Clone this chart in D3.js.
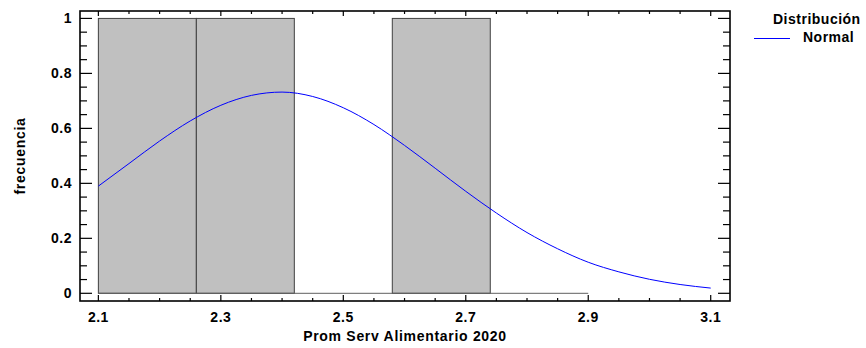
<!DOCTYPE html>
<html>
<head>
<meta charset="utf-8">
<script src="https://cdn.jsdelivr.net/npm/d3@7"></script>
<style>
  html, body { margin: 0; padding: 0; background: #fff; }
  svg text { font-family: "Liberation Sans", Arial, sans-serif; font-weight: bold; fill: #000; }
</style>
</head>
<body>
<svg id="chart" width="866" height="348"></svg>
<script>
// Histogram bins (edges) and counts per bin
const binEdges = [2.10, 2.26, 2.42, 2.58, 2.74, 2.90];
const binCounts = [1, 1, 0, 1, 0];

// Fitted normal curve, sampled along the axis
const curveX = [2.10, 2.15, 2.20, 2.25, 2.30, 2.35, 2.40, 2.45, 2.50, 2.55, 2.60,
                2.65, 2.70, 2.75, 2.80, 2.85, 2.90, 2.95, 3.00, 3.05, 3.10];
const curveY = [0.390, 0.472, 0.554, 0.627, 0.684, 0.720, 0.732, 0.716, 0.675, 0.614, 0.538,
                0.455, 0.371, 0.292, 0.221, 0.162, 0.113, 0.078, 0.051, 0.032, 0.019];

// Axis ticks
const xTicks = [2.1, 2.3, 2.5, 2.7, 2.9, 3.1];
const yTicks = [0, 0.2, 0.4, 0.6, 0.8, 1];

const xLabel = "Prom Serv Alimentario 2020";
const yLabel = "frecuencia";
const legendTitle = "Distribución";
const legendItems = ["Normal"];

const svg = d3.select("#chart");
const L = 80, R = 730, T = 11, B = 301;

const x = d3.scaleLinear().domain([2.07, 3.1315]).range([L, R]);
const y = d3.scaleLinear().domain([-0.028, 1.027]).range([B, T]);

const xMinor = d3.range(2.1, 3.1001, 0.05);
const yMinor = d3.range(0, 1.0001, 0.05);
const isMajor = (v, list) => list.some(t => Math.abs(t - v) < 1e-6);

// Bars
const bins = binCounts.map((c, i) => ({ x0: binEdges[i], x1: binEdges[i + 1], c }));
svg.append("g").selectAll("rect")
  .data(bins.filter(d => d.c > 0))
  .join("rect")
  .attr("x", d => x(d.x0))
  .attr("y", d => y(d.c))
  .attr("width", d => x(d.x1) - x(d.x0))
  .attr("height", d => y(0) - y(d.c))
  .attr("fill", "#c0c0c0")
  .attr("stroke", "#404040")
  .attr("stroke-width", 1);

// Baseline under all bins
svg.append("line")
  .attr("x1", x(binEdges[0])).attr("x2", x(binEdges[binEdges.length - 1]))
  .attr("y1", y(0)).attr("y2", y(0))
  .attr("stroke", "#606060").attr("stroke-width", 1);

// Normal curve
const line = d3.line()
  .x((d, i) => x(curveX[i]))
  .y(d => y(d))
  .curve(d3.curveMonotoneX);
svg.append("path")
  .datum(curveY)
  .attr("d", line)
  .attr("fill", "none")
  .attr("stroke", "#0000ff")
  .attr("stroke-width", 1);

// Frame
const frame = svg.append("g").attr("stroke", "#000").attr("stroke-width", 1.6);
frame.append("rect")
  .attr("x", L).attr("y", T).attr("width", R - L).attr("height", B - T)
  .attr("fill", "none");

// Inward ticks on all four sides
const tk = svg.append("g").attr("stroke", "#000").attr("stroke-width", 1.2);
xMinor.forEach(v => {
  const len = isMajor(v, xTicks) ? 6 : 3;
  tk.append("line").attr("x1", x(v)).attr("x2", x(v)).attr("y1", B).attr("y2", B - len);
  tk.append("line").attr("x1", x(v)).attr("x2", x(v)).attr("y1", T).attr("y2", T + (isMajor(v, xTicks) ? 5 : 3));
});
yMinor.forEach(v => {
  const len = isMajor(v, yTicks) ? 12 : 7;
  tk.append("line").attr("x1", L).attr("x2", L + len).attr("y1", y(v)).attr("y2", y(v));
  tk.append("line").attr("x1", R).attr("x2", R - len).attr("y1", y(v)).attr("y2", y(v));
});

// Tick labels
const fmt = d3.format("~g");
svg.append("g").selectAll("text")
  .data(xTicks).join("text")
  .attr("x", d => x(d)).attr("y", 321.5)
  .attr("text-anchor", "middle")
  .style("font-size", "14px").style("letter-spacing", "0.5px")
  .text(d => fmt(d));

svg.append("g").selectAll("text")
  .data(yTicks).join("text")
  .attr("x", 72).attr("y", d => y(d) + 5)
  .attr("text-anchor", "end")
  .style("font-size", "14px").style("letter-spacing", "0.5px")
  .text(d => fmt(d));

// Axis titles
svg.append("text")
  .attr("x", (L + R) / 2).attr("y", 340.5)
  .attr("text-anchor", "middle")
  .style("font-size", "14px").style("letter-spacing", "0.7px")
  .text(xLabel);

svg.append("text")
  .attr("transform", `translate(25,${(T + B) / 2}) rotate(-90)`)
  .attr("text-anchor", "middle")
  .style("font-size", "14px").style("letter-spacing", "0.7px")
  .text(yLabel);

// Legend
svg.append("text")
  .attr("x", 773).attr("y", 24)
  .style("font-size", "14px").style("letter-spacing", "0.5px")
  .text(legendTitle);
legendItems.forEach((name, i) => {
  const ly = 38.5 + i * 17;
  svg.append("line")
    .attr("x1", 754).attr("x2", 790).attr("y1", ly).attr("y2", ly)
    .attr("stroke", "#0000ff").attr("stroke-width", 1);
  svg.append("text")
    .attr("x", 803).attr("y", ly + 3.5)
    .style("font-size", "14px").style("letter-spacing", "0.5px")
    .text(name);
});
</script>
</body>
</html>
